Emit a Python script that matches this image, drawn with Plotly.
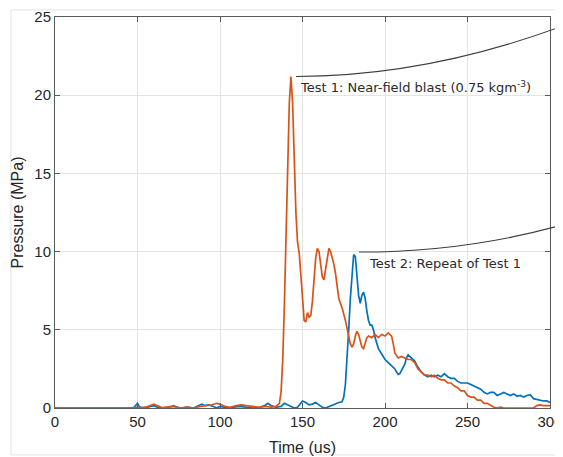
import plotly.graph_objects as go

# ---- data ----
t_test1 = [0, 48, 50, 52, 55, 58, 60, 62, 65, 68, 70, 72, 74, 77, 80, 84, 88, 92, 95, 98, 100, 103, 106, 110, 113,
           116, 120, 124, 128, 131, 134, 136, 137, 138, 139, 140, 141, 142, 143, 144, 145, 146, 147, 148, 149, 150,
           151, 152, 153, 154, 155, 156, 157, 158, 159, 160, 161, 162, 163, 164, 165, 166, 167, 168, 169, 170, 171,
           172, 174, 176, 178, 179, 180, 181, 182, 183, 184, 185, 186, 187, 188, 189, 190, 192, 194, 196, 198, 200,
           202, 204, 205, 206, 208, 210, 212, 214, 216, 218, 220, 222, 224, 226, 228, 230, 232, 234, 236, 238, 240,
           242, 244, 246, 248, 250, 252, 254, 256, 258, 260, 262, 264, 266, 268, 270, 272, 275, 280, 285, 290, 292,
           294, 296, 298, 300]
p_test1 = [0, 0, 0.05, 0.02, 0.05, 0.15, 0.25, 0.15, 0.02, 0.05, 0.1, 0.15, 0.05, 0.0, 0.05, 0.0, 0.1, 0.15, 0.2, 0.3,
           0.25, 0.1, 0.05, 0.15, 0.2, 0.15, 0.1, 0.05, 0.1, 0.05, 0.1, 0.3, 1.0, 3.0, 6.5, 11.0, 15.5, 19.5, 21.2,
           19.5, 16.0, 12.5, 10.6, 9.9, 8.5, 6.8, 5.6, 5.5, 6.1, 5.8, 5.9, 6.8, 8.3, 9.6, 10.2, 10.0, 9.2, 8.4, 8.2,
           8.9, 9.8, 10.2, 10.0, 9.6, 9.2, 8.6, 7.6, 7.0, 6.4, 5.6, 4.6, 4.1, 3.9, 4.1, 4.6, 4.9, 4.7, 4.2, 3.9, 3.8,
           4.1, 4.5, 4.6, 4.5, 4.7, 4.5, 4.7, 4.6, 4.8, 4.6, 4.1, 3.5, 3.2, 3.3, 3.2, 3.1, 3.1, 2.9, 2.5, 2.3, 2.1,
           2.1, 2.0, 2.1, 1.9, 1.8, 1.8, 1.6, 1.6, 1.4, 1.3, 1.1, 1.1, 0.8, 0.7, 0.7, 0.5, 0.5, 0.3, 0.3, 0.15, 0.05,
           0.0, 0.05, 0.0, 0, 0, 0, 0, 0.15, 0.2, 0.15, 0.15, 0.15]

t_test2 = [0, 46, 48, 49, 50, 51, 53, 56, 58, 60, 62, 65, 68, 72, 76, 80, 84, 87, 89, 91, 93, 96, 98, 100, 102, 105,
           108, 112, 116, 120, 124, 127, 129, 131, 134, 137, 139, 141, 143, 145, 147, 149, 150, 152, 154, 156, 158,
           160, 162, 164, 166, 168, 170, 172, 174, 175, 176, 177, 178, 179, 180, 181, 182, 183, 184, 185, 186, 187,
           188, 189, 190, 191, 192, 193, 194, 196, 198, 200, 202, 204, 206, 207, 208, 209, 210, 211, 212, 213, 214,
           215, 216, 218, 220, 222, 224, 226, 228, 230, 232, 234, 236, 238, 240, 242, 244, 246, 248, 250, 252, 254,
           256, 258, 260, 262, 264, 266, 268, 270, 272, 274, 276, 278, 280, 282, 284, 286, 288, 290, 292, 294, 296,
           298, 300]
p_test2 = [0, 0, 0.05, 0.15, 0.3, 0.1, 0.0, 0.05, 0.1, 0.15, 0.05, 0.0, 0.05, 0.1, 0.0, 0.05, 0.0, 0.15, 0.25, 0.15,
           0.2, 0.1, 0.0, 0.1, 0.05, 0.0, 0.05, 0.1, 0.05, 0.0, 0.05, 0.15, 0.3, 0.15, 0.05, 0.1, 0.3, 0.2, 0.05, 0.0,
           0.05, 0.3, 0.45, 0.35, 0.2, 0.25, 0.35, 0.2, 0.05, 0.0, 0.1, 0.2, 0.3, 0.35, 0.4, 0.7, 1.5, 3.0, 5.0, 7.0,
           8.8, 9.8, 9.7, 8.5, 7.2, 6.7, 7.2, 7.4, 7.0, 6.2, 5.6, 5.3, 5.3, 5.0, 4.5, 3.8, 3.4, 3.1, 2.9, 2.7, 2.5,
           2.3, 2.15, 2.2, 2.4, 2.6, 2.8, 3.2, 3.4, 3.3, 3.2, 3.0, 2.6, 2.3, 2.1, 2.0, 2.1, 2.0, 2.1, 2.0, 2.2, 2.0,
           1.9, 1.9, 1.7, 1.6, 1.6, 1.6, 1.5, 1.4, 1.3, 1.2, 1.0, 0.9, 1.0, 1.0, 0.8, 0.9, 1.0, 0.9, 0.8, 0.9, 0.75,
           0.8, 0.7, 0.8, 0.85, 0.6, 0.55, 0.5, 0.45, 0.45, 0.35]

x_ticks = [0, 50, 100, 150, 200, 250, 300]
y_ticks = [0, 5, 10, 15, 20, 25]
label_test1 = "Test 1: Near-field blast (0.75 kgm<sup>-3</sup>)"
label_test2 = "Test 2: Repeat of Test 1"

# ---- layout constants ----
X_RANGE = (0, 300)
Y_RANGE = (0, 25)
BLUE = "#0072BD"
ORANGE = "#D95319"


def to_paper(t, p):
    return ((t - X_RANGE[0]) / (X_RANGE[1] - X_RANGE[0]),
            (p - Y_RANGE[0]) / (Y_RANGE[1] - Y_RANGE[0]))


def leader(start, ctrl, end):
    (x0, y0), (cx, cy), (x1, y1) = to_paper(*start), to_paper(*ctrl), to_paper(*end)
    return dict(type="path", xref="paper", yref="paper",
                path=f"M {x0},{y0} Q {cx},{cy} {x1},{y1}",
                line=dict(color="#3a3a3a", width=1.1))


fig = go.Figure()
fig.add_trace(go.Scatter(x=t_test2, y=p_test2, mode="lines",
                         line=dict(color=BLUE, width=1.7), name="Test 2"))
fig.add_trace(go.Scatter(x=t_test1, y=p_test1, mode="lines",
                         line=dict(color=ORANGE, width=1.7), name="Test 1"))

axis_common = dict(showgrid=True, gridcolor="#e4e4e4", gridwidth=1,
                   showline=True, linecolor="#5a5a5a", linewidth=1,
                   mirror="ticks", ticks="inside", ticklen=5, tickcolor="#5a5a5a",
                   zeroline=False, automargin=False,
                   tickfont=dict(family="Liberation Sans, Arial", size=15, color="#262626"))

fig.update_xaxes(range=list(X_RANGE), tickvals=x_ticks, ticktext=[str(v) for v in x_ticks],
                 title=dict(text="Time (us)", standoff=12,
                            font=dict(family="Liberation Sans, Arial", size=16, color="#262626")),
                 **axis_common)
fig.update_yaxes(range=list(Y_RANGE), tickvals=y_ticks, ticktext=[str(v) for v in y_ticks],
                 title=dict(text="Pressure (MPa)", standoff=6,
                            font=dict(family="Liberation Sans, Arial", size=16, color="#262626")),
                 **axis_common)

ann_font = dict(family="DejaVu Sans, Verdana", size=13, color="#2a2a2a")
fig.add_annotation(x=147, y=20.5, xref="x", yref="y", text=label_test1, showarrow=False,
                   xanchor="left", yanchor="middle", font=ann_font)
fig.add_annotation(x=189, y=9.27, xref="x", yref="y", text=label_test2, showarrow=False,
                   xanchor="left", yanchor="middle", font=ann_font)

shapes = [
    leader((146.1, 21.2), (227.3, 21.2), (312, 24.6)),
    leader((184.2, 9.97), (251.5, 9.97), (312, 11.85)),
    dict(type="rect", xref="paper", yref="paper", x0=-0.089, y0=-0.12, x1=1.1, y1=1.018,
         line=dict(color="#e2e2e2", width=1), fillcolor="rgba(0,0,0,0)", layer="below"),
]
fig.update_layout(
    width=563, height=457,
    margin=dict(l=47, r=21, t=9, b=57),
    paper_bgcolor="white", plot_bgcolor="white",
    showlegend=False,
    shapes=shapes,
)

fig.write_html("out.html")
